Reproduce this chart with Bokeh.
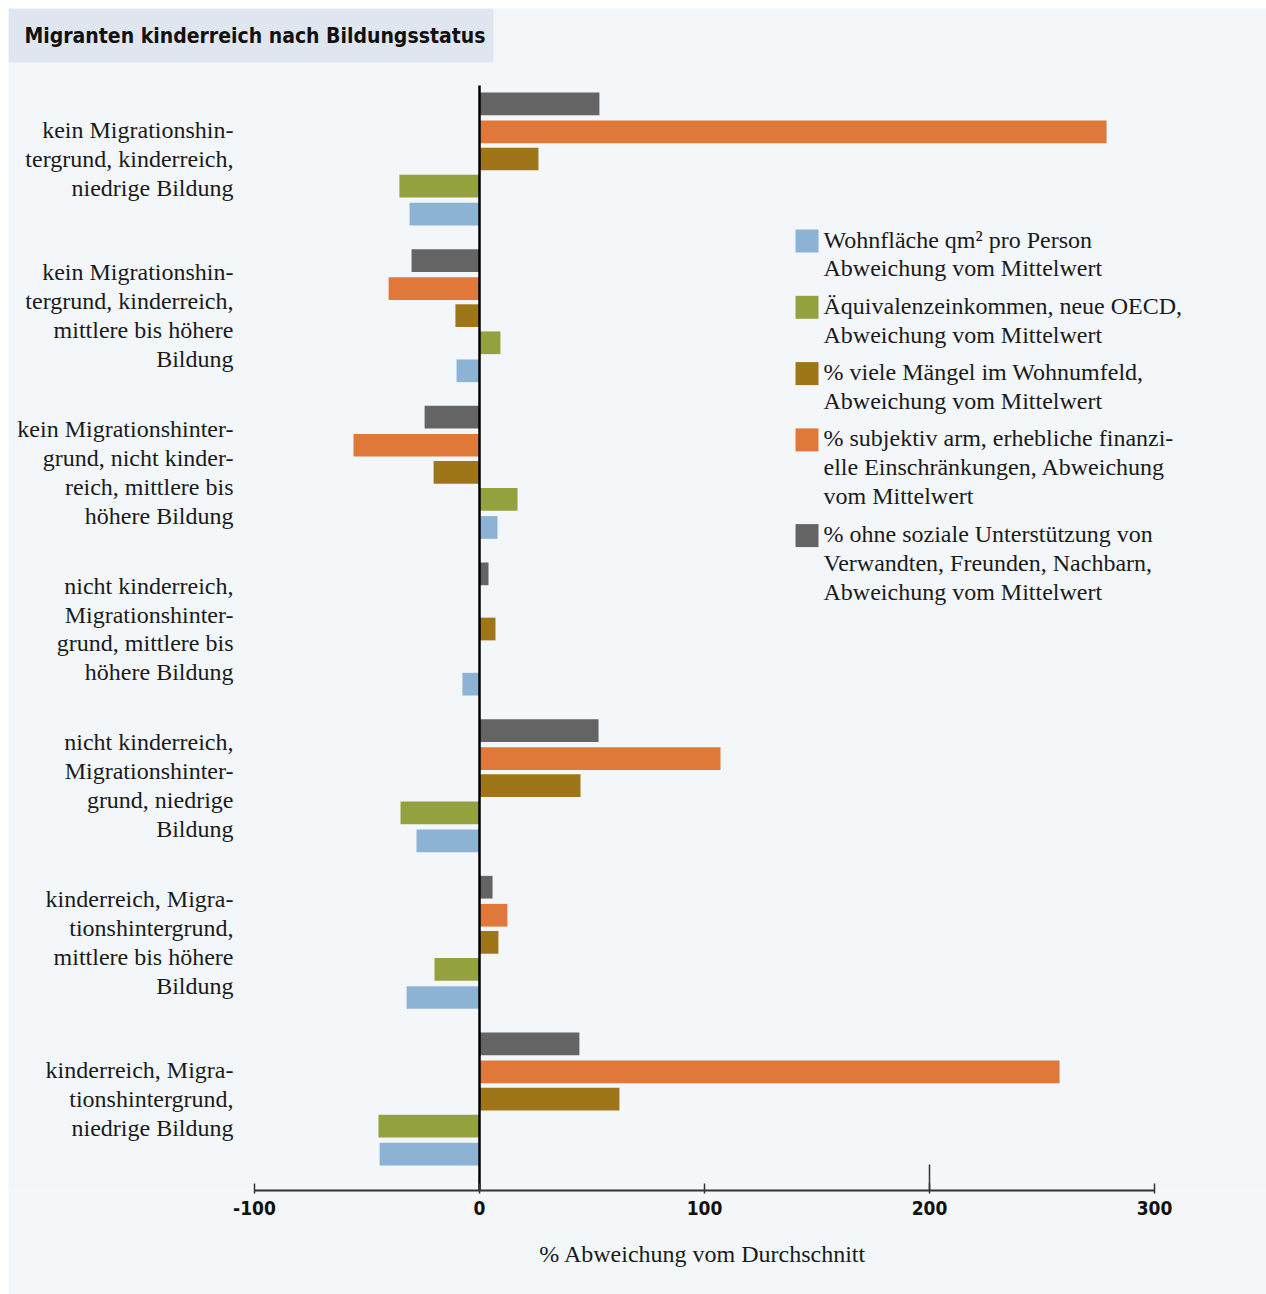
from bokeh.plotting import figure
from bokeh.models import (ColumnDataSource, Range1d, Label, BoxAnnotation, FixedTicker, Title)
from bokeh.transform import dodge
from bokeh.core.properties import value
from bokeh.embed import file_html
from bokeh.resources import INLINE

# ---------------- data ----------------
categories = [
    "kein Migrationshin-\ntergrund, kinderreich,\nniedrige Bildung",
    "kein Migrationshin-\ntergrund, kinderreich,\nmittlere bis höhere\nBildung",
    "kein Migrationshinter-\ngrund, nicht kinder-\nreich, mittlere bis\nhöhere Bildung",
    "nicht kinderreich,\nMigrationshinter-\ngrund, mittlere bis\nhöhere Bildung",
    "nicht kinderreich,\nMigrationshinter-\ngrund, niedrige\nBildung",
    "kinderreich, Migra-\ntionshintergrund,\nmittlere bis höhere\nBildung",
    "kinderreich, Migra-\ntionshintergrund,\nniedrige Bildung",
]
wohnflaeche = [-31.1, -10.2, 8.0, -7.6, -28.0, -32.4, -44.4]
einkommen = [-35.6, 9.3, 16.9, 0.0, -35.1, -20.0, -44.9]
maengel = [26.2, -10.7, -20.4, 7.1, 44.9, 8.4, 62.2]
subjektiv_arm = [278.7, -40.4, -56.0, 0.0, 107.1, 12.4, 257.8]
ohne_unterstuetzung = [53.3, -30.2, -24.4, 4.0, 52.9, 5.8, 44.4]

series_labels = [
    "Wohnfläche qm² pro Person\nAbweichung vom Mittelwert",
    "Äquivalenzeinkommen, neue OECD,\nAbweichung vom Mittelwert",
    "% viele Mängel im Wohnumfeld,\nAbweichung vom Mittelwert",
    "% subjektiv arm, erhebliche finanzi-\nelle Einschränkungen, Abweichung\nvom Mittelwert",
    "% ohne soziale Unterstützung von\nVerwandten, Freunden, Nachbarn,\nAbweichung vom Mittelwert",
]
x_ticks = [-100, 0, 100, 200, 300]
title_text = "Migranten kinderreich nach Bildungsstatus"
x_axis_title = "% Abweichung vom Durchschnitt"

# ---------------- style / layout ----------------
colors = ["#8cb3d4", "#95a03e", "#9e7519", "#e07839", "#646464"]
offsets = [-0.352, -0.173, 0.0, 0.173, 0.352]
BG = "#f3f7fa"
TITLE_BG = "#dfe6f0"
TEXT = "#1a1a1a"
SERIF = "Liberation Serif"
COND = "DejaVu Sans Condensed"

W, H = 1258, 1286
PX_PER_UNIT_X = 2.25
PX_PER_GROUP = 156.67
LINE_H = 1.11          # multiple of font metrics height -> ~29.5px line pitch
LINE_PX = 29.4
x_start = -(479 - 8) / PX_PER_UNIT_X
x_end = x_start + W / PX_PER_UNIT_X
y_end = 6 + (158.5 - 8) / PX_PER_GROUP
y_start = y_end - (1190 - 8) / PX_PER_GROUP


def fx(px):
    """page pixel x -> data x"""
    return x_start + (px - 8) / PX_PER_UNIT_X


def fy(py):
    """page pixel y -> data y"""
    return y_end - (py - 8) / PX_PER_GROUP


ypos = list(range(len(categories)))[::-1]
source = ColumnDataSource(dict(
    y=ypos, cat=categories,
    s0=wohnflaeche, s1=einkommen, s2=maengel, s3=subjektiv_arm, s4=ohne_unterstuetzung,
))

p = figure(width=W, height=H, output_backend="svg", toolbar_location=None,
           x_range=Range1d(x_start, x_end), y_range=Range1d(y_start, y_end),
           y_axis_location=None, min_border=0, min_border_bottom=104,
           background_fill_color=BG, border_fill_color=BG, outline_line_color=None)
p.margin = (8, 0, 0, 8)
p.grid.visible = False

for i, key in enumerate(["s0", "s1", "s2", "s3", "s4"]):
    p.hbar(y=dodge("y", offsets[i], range=p.y_range), left=0, right=key,
           height=0.145, source=source, fill_color=colors[i], line_color=None)

# category labels
p.text(x=fx(233), y="y", text="cat", source=source, text_align="right",
       text_baseline="middle", text_font=value(SERIF), text_font_size="24px",
       text_line_height=LINE_H, text_color=TEXT)

# zero line and long 200 tick
p.segment(x0=[0], x1=[0], y0=[y_start], y1=[fy(85)], line_color="black", line_width=2.5)
p.segment(x0=[x_ticks[3]], x1=[x_ticks[3]], y0=[y_start], y1=[fy(1164)],
          line_color="#333333", line_width=1.5)

# axis
ax = p.xaxis[0]
ax.bounds = (x_ticks[0], x_ticks[-1])
ax.ticker = FixedTicker(ticks=x_ticks)
ax.major_label_overrides = {t: str(t) for t in x_ticks}
ax.axis_line_color = "#333333"
ax.axis_line_width = 2
ax.major_tick_line_color = "#333333"
ax.major_tick_line_width = 1.5
ax.major_tick_in = 7
ax.major_tick_out = 3
ax.minor_tick_line_color = None
ax.major_label_text_font = COND
ax.major_label_text_font_style = "bold"
ax.major_label_text_font_size = "19px"
ax.major_label_text_color = "#111111"
ax.major_label_standoff = 7

# axis title: a "below" title, right-aligned so that it is centred under -100..300
p.add_layout(Title(text=x_axis_title, align="right", offset=400, standoff=42,
                   text_font=SERIF, text_font_size="24px", text_font_style="normal",
                   text_color=TEXT), "below")

# title box
p.add_layout(BoxAnnotation(left=fx(8), right=fx(493), top=fy(8), bottom=fy(62),
                           fill_color=TITLE_BG, fill_alpha=1.0, line_color=None))
p.add_layout(Label(x=fx(24), y=fy(35), text=title_text, text_baseline="middle",
                   text_font=COND, text_font_style="bold", text_font_size="21px",
                   text_color="#111111"))

# legend (drawn manually: square swatch aligned with first line of a multi-line label)
leg_tops = []
top = 226.0
for lab in series_labels:
    leg_tops.append(top)
    top += (lab.count("\n") + 1) * LINE_PX + 7.5
leg_src = ColumnDataSource(dict(
    sy=[fy(t + 14.5) for t in leg_tops],
    ty=[fy(t) for t in leg_tops],
    label=series_labels, color=colors,
))
p.scatter(x=fx(806.5), y="sy", source=leg_src, marker="square", size=23,
          fill_color="color", line_color=None)
p.text(x=fx(823), y="ty", text="label", source=leg_src, text_align="left",
       text_baseline="top", text_font=value(SERIF), text_font_size="24px",
       text_line_height=LINE_H, text_color=TEXT)

open("out.html", "w").write(file_html(p, INLINE))
